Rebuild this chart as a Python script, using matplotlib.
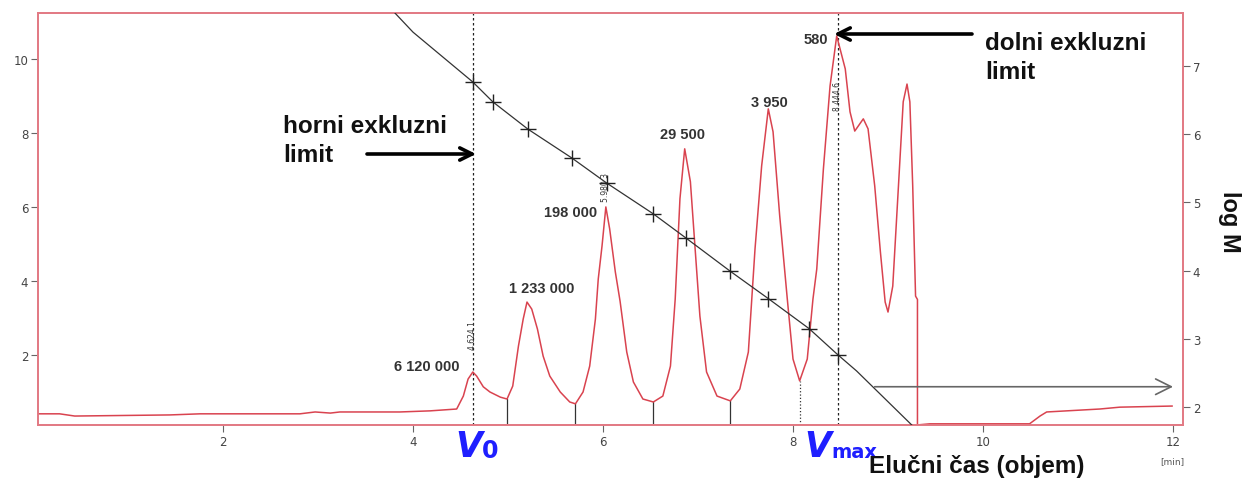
import matplotlib
matplotlib.use("Agg")
import matplotlib.pyplot as plt

W, H = 1249, 489

# ---------------- data ----------------
# chromatogram (detector signal, left axis)
chrom_x = [0.05, 0.28, 0.44, 1.44, 1.76, 2.81, 2.97, 3.13, 3.23, 3.86, 4.18, 4.46,
           4.53, 4.58, 4.63, 4.67, 4.74, 4.81, 4.92, 4.99,
           5.05, 5.11, 5.16, 5.20, 5.25, 5.31, 5.37, 5.44, 5.55, 5.65, 5.71,
           5.79, 5.86, 5.92, 5.95, 5.99, 6.03, 6.07, 6.13, 6.18, 6.25, 6.32, 6.42, 6.53,
           6.63, 6.71, 6.76, 6.81, 6.86, 6.92, 6.97, 7.02, 7.09, 7.20, 7.34,
           7.44, 7.53, 7.60, 7.67, 7.74, 7.79, 7.86, 7.94, 8.00, 8.07,
           8.15, 8.21, 8.25, 8.32, 8.39, 8.46, 8.55, 8.60, 8.65, 8.74, 8.79,
           8.86, 8.92, 8.97, 9.00, 9.05, 9.11, 9.16, 9.20, 9.23, 9.26, 9.29,
           9.31, 9.31, 9.44, 9.76, 10.18, 10.49, 10.60, 10.67, 11.02, 11.23, 11.44, 11.99]
chrom_y = [0.41, 0.41, 0.35, 0.38, 0.41, 0.41, 0.46, 0.43, 0.46, 0.46, 0.49, 0.54,
           0.89, 1.35, 1.54, 1.43, 1.14, 1.00, 0.86, 0.81,
           1.16, 2.24, 2.97, 3.43, 3.24, 2.70, 1.97, 1.43, 1.00, 0.73, 0.68,
           1.00, 1.70, 2.97, 4.05, 4.95, 6.00, 5.41, 4.24, 3.45, 2.08, 1.27, 0.81, 0.73,
           0.89, 1.70, 3.51, 6.22, 7.57, 6.68, 4.86, 3.05, 1.54, 0.89, 0.76,
           1.08, 2.08, 4.86, 7.11, 8.65, 8.03, 5.76, 3.51, 1.89, 1.30,
           1.89, 3.51, 4.32, 7.03, 9.27, 10.62, 9.73, 8.57, 8.05, 8.38, 8.11,
           6.57, 4.78, 3.43, 3.16, 3.86, 6.57, 8.84, 9.32, 8.84, 6.57, 3.59,
           3.50, 0.11, 0.14, 0.14, 0.14, 0.14, 0.35, 0.46, 0.51, 0.54, 0.59, 0.62]

# calibration curve (log M, right axis)
calib_x = [3.81, 4.00, 4.63, 4.84, 5.21, 5.67, 6.04, 6.53, 6.87, 7.34, 7.74, 8.17, 8.47, 8.67, 9.25]
calib_logm = [7.77, 7.49, 6.76, 6.47, 6.07, 5.65, 5.28, 4.83, 4.48, 3.99, 3.59, 3.15, 2.77, 2.53, 1.74]
# calibration standards (markers)
std_x = [4.63, 4.84, 5.21, 5.67, 6.04, 6.53, 6.87, 7.34, 7.74, 8.17, 8.47]
std_logm = [6.76, 6.47, 6.07, 5.65, 5.28, 4.83, 4.48, 3.99, 3.59, 3.15, 2.77]

# peak labels (molar masses)
peak_labels = ["6 120 000", "1 233 000", "198 000", "29 500", "3 950", "580"]
peak_label_x = [4.49, 5.35, 5.66, 6.84, 7.75, 8.37]
peak_label_y = [1.70, 3.81, 5.86, 7.97, 8.84, 10.54]
peak_label_ha = ["right", "center", "center", "center", "center", "right"]

# retention time labels (rotated, small)
rt_labels = ["4.624 1", "5.980 3", "8.444 6"]
rt_x = [4.63, 6.03, 8.47]
rt_y = [2.55, 6.55, 9.0]

# integration valley markers
valley_x = [4.99, 5.71, 6.53, 7.34, 8.07]
valley_y = [0.81, 0.68, 0.73, 0.76, 1.30]

v0_x = 4.63
vmax_x = 8.47

x_ticks = [2, 4, 6, 8, 10, 12]
y_ticks = [2, 4, 6, 8, 10]
logm_ticks = [2, 3, 4, 5, 6, 7]

# ---------------- figure ----------------
RED_FRAME = "#e27a84"
RED_LINE = "#d9434f"

fig = plt.figure(figsize=(W / 100, H / 100), dpi=100)
fig.patch.set_facecolor("white")


def fx(px):
    return px / W


def fy(py):
    return 1 - py / H


ax = fig.add_axes([fx(38), fy(426), (1183 - 38) / W, (426 - 14) / H])
ax.set_xlim(0.053, 12.105)
ax.set_ylim(0.108, 11.24)
ax2 = ax.twinx()
ax2.set_ylim(1.74, 7.77)

for a in (ax, ax2):
    for s in a.spines.values():
        s.set_color(RED_FRAME)
        s.set_linewidth(1.3)

ax.set_xticks(x_ticks)
ax.set_yticks(y_ticks)
ax2.set_yticks(logm_ticks)
ax.tick_params(axis="both", direction="out", length=5, width=0.8, color="#666",
               labelcolor="#444", labelsize=8.5, pad=2)
ax2.tick_params(axis="y", direction="out", length=5, width=0.8, color="#666",
                labelcolor="#444", labelsize=8.5, pad=2)

# chromatogram
ax.plot(chrom_x, chrom_y, color=RED_LINE, lw=1.1, zorder=3)

# valley markers
for vx, vy in zip(valley_x, valley_y):
    ls = ":" if vx > 8 else "-"
    ax.plot([vx, vx], [0.108, vy], color="#333", lw=0.9, ls=ls, zorder=2)

# V0 and Vmax dotted lines
for vx in (v0_x, vmax_x):
    ax.axvline(vx, color="#222", lw=0.9, ls=(0, (2, 2)), zorder=2)

# calibration curve
ax2.plot(calib_x, calib_logm, color="#333", lw=0.9, zorder=4)
ax2.plot(std_x, std_logm, ls="none", marker="+", ms=12, mew=1.0, color="#222", zorder=5)

# horizontal gray arrow
ax2.annotate("", xy=(12.0, 2.30), xytext=(8.86, 2.30),
             arrowprops=dict(arrowstyle="->", color="#666", lw=1.2, mutation_scale=28,
                             shrinkA=0, shrinkB=0))

# peak labels
for t, x, y, ha in zip(peak_labels, peak_label_x, peak_label_y, peak_label_ha):
    ax.text(x, y, t, ha=ha, va="center", fontsize=10.5, fontweight="bold",
            color="#333", family="Liberation Sans", zorder=6)

for t, x, y in zip(rt_labels, rt_x, rt_y):
    ax.text(x, y, t, rotation=90, ha="center", va="center", fontsize=5.5,
            color="#333", zorder=6)

# annotation texts
BIG = dict(fontsize=17.5, fontweight="bold", color="#111", family="Liberation Sans")
fig.text(fx(283), fy(133), "horni exkluzni", ha="left", va="baseline", **BIG)
fig.text(fx(283), fy(162), "limit", ha="left", va="baseline", **BIG)
fig.text(fx(985), fy(50), "dolni exkluzni", ha="left", va="baseline", **BIG)
fig.text(fx(985), fy(79), "limit", ha="left", va="baseline", **BIG)

arrow_kw = dict(arrowstyle="->", color="black", lw=2.6, mutation_scale=22, shrinkA=0, shrinkB=0)
fig.add_artist(matplotlib.patches.FancyArrowPatch((fx(367), fy(155)), (fx(476), fy(155)),
                                                  transform=fig.transFigure, **arrow_kw))
fig.add_artist(matplotlib.patches.FancyArrowPatch((fx(972), fy(35)), (fx(834), fy(35)),
                                                  transform=fig.transFigure, **arrow_kw))

# V0 / Vmax labels
VBLUE = "#1f1fff"
fig.text(fx(455), fy(457), "V", fontsize=25, fontweight="bold", style="italic",
         color=VBLUE, family="DejaVu Sans", ha="left", va="baseline")
fig.text(fx(482), fy(458), "0", fontsize=17, fontweight="bold",
         color=VBLUE, family="DejaVu Sans", ha="left", va="baseline")
fig.text(fx(804), fy(457), "V", fontsize=25, fontweight="bold", style="italic",
         color=VBLUE, family="DejaVu Sans", ha="left", va="baseline")
fig.text(fx(831), fy(458), "max", fontsize=14, fontweight="bold",
         color=VBLUE, family="DejaVu Sans", ha="left", va="baseline")

# axis titles
fig.text(fx(977), fy(467), "Elučni čas (objem)", ha="center", va="center",
         fontsize=17.5, fontweight="bold", color="#111", family="Liberation Sans")
fig.text(fx(1229), fy(222), "log M", ha="center", va="center", rotation=-90,
         fontsize=17, fontweight="bold", color="#111", family="Liberation Sans")
fig.text(fx(1172), fy(462), "[min]", ha="center", va="center", fontsize=6.5, color="#555")

fig.savefig("out.png", dpi=100, facecolor="white")
